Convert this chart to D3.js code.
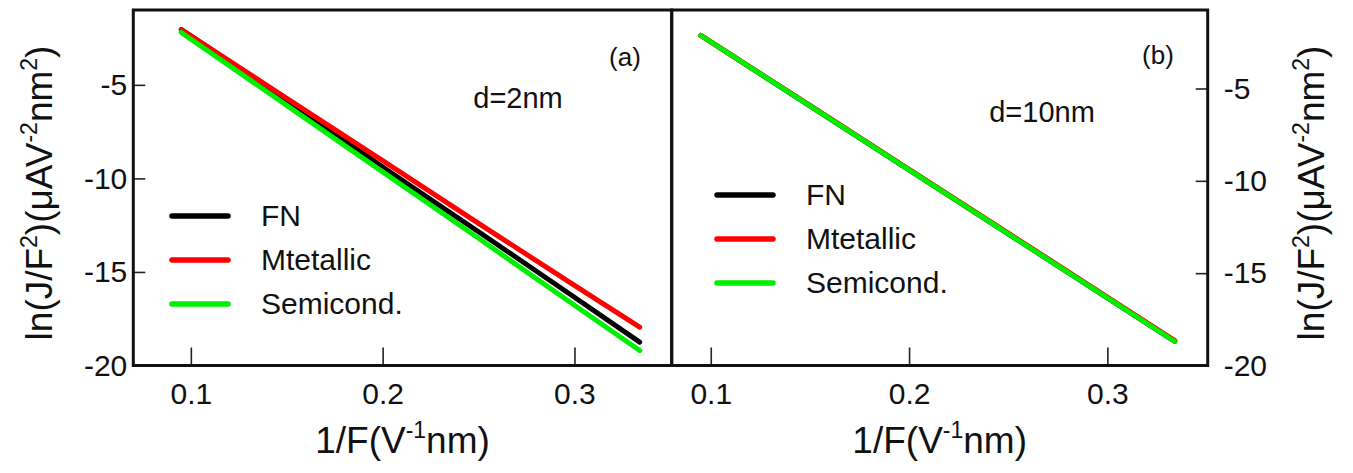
<!DOCTYPE html>
<html>
<head>
<meta charset="utf-8">
<script src="https://cdn.jsdelivr.net/npm/d3@7"></script>
<style>
  body { margin: 0; background: #fff; }
  svg text { font-family: "Liberation Sans", Arial, sans-serif; fill: #111; }
</style>
</head>
<body>
<svg id="chart"></svg>
<script>
// 1/F values (V^-1 nm) where the curves were read
const invF = [0.095, 0.15, 0.2, 0.25, 0.3, 0.334];

// panel (a), d = 2 nm
const fnA   = [-2.05, -5.8, -9.4, -12.85, -16.35, -18.75];
const metA  = [-2.05, -5.72, -9.05, -12.4, -15.72, -17.95];
const semA  = [-2.2, -6.1, -9.65, -13.2, -16.78, -19.2];

// panel (b), d = 10 nm
const fnB   = [-2.13, -5.94, -9.41, -12.87, -16.34, -18.7];
const metB  = [-2.12, -5.92, -9.38, -12.83, -16.29, -18.65];
const semB  = [-2.13, -5.94, -9.41, -12.87, -16.34, -18.7];

const seriesNames  = ["FN", "Mtetallic", "Semicond."];
const seriesColors = ["#000000", "#ff0000", "#00ee00"];

const xTicks = [0.1, 0.2, 0.3];
const yTicks = [-5, -10, -15, -20];

const W = 1353, H = 473;
const plotTop = 10, plotBottom = 365.5;

class FNPanel {
    constructor(svg, opts) {
        this.svg = svg;
        this.o = opts;
    }

    draw() {
        const o = this.o;
        const x = d3.scaleLinear().domain(o.xDomain).range([o.left, o.right]);
        const y = d3.scaleLinear().domain(o.yDomain).range([plotBottom, plotTop]);
        const g = this.svg.append("g");

        // x axis, ticks pointing inward
        const xa = g.append("g")
            .attr("transform", `translate(0,${plotBottom})`)
            .call(d3.axisBottom(x).tickValues(xTicks).tickFormat(d => d.toFixed(1))
                .tickSizeInner(-18).tickSizeOuter(0).tickPadding(17));
        xa.select(".domain").remove();
        xa.selectAll("line").attr("stroke", "#222").attr("stroke-width", 1.6);
        xa.selectAll("text").attr("font-size", 30).attr("font-family", null);

        // y axis on the outer side (plain hyphen for the minus sign)
        const yAxis = o.ySide === "left" ? d3.axisLeft(y) : d3.axisRight(y);
        const ya = g.append("g")
            .attr("transform", `translate(${o.ySide === "left" ? o.left : o.right},0)`)
            .call(yAxis.tickValues(yTicks).tickFormat(d => String(d))
                .tickSizeInner(-12).tickSizeOuter(0)
                .tickPadding(o.ySide === "left" ? 6 : 16));
        ya.select(".domain").remove();
        ya.selectAll("line").attr("stroke", "#222").attr("stroke-width", 1.6);
        ya.selectAll("text").attr("font-size", 30).attr("font-family", null);

        // curves
        const line = d3.line().x((d, i) => x(invF[i])).y(d => y(d));
        g.selectAll("path.curve")
            .data(o.series)
            .enter()
            .append("path")
            .attr("class", "curve")
            .attr("d", d => line(d))
            .attr("fill", "none")
            .attr("stroke", (d, i) => seriesColors[i])
            .attr("stroke-width", 5)
            .attr("stroke-linecap", "round");

        // frame
        g.append("rect")
            .attr("x", o.left).attr("y", plotTop)
            .attr("width", o.right - o.left).attr("height", plotBottom - plotTop)
            .attr("fill", "none").attr("stroke", "#111").attr("stroke-width", 3);

        // legend
        const lg = g.append("g").attr("transform", `translate(${o.legend[0]},${o.legend[1]})`);
        seriesNames.forEach((name, i) => {
            lg.append("line")
                .attr("x1", 0).attr("x2", 56).attr("y1", i * 44).attr("y2", i * 44)
                .attr("stroke", seriesColors[i]).attr("stroke-width", 5.5)
                .attr("stroke-linecap", "round");
            lg.append("text")
                .attr("x", 89).attr("y", i * 44 + 10)
                .attr("font-size", 30)
                .text(name);
        });

        // labels inside the panel
        g.append("text").attr("x", o.tag[0]).attr("y", o.tag[1])
            .attr("font-size", 26).attr("text-anchor", "middle").text(o.tagText);
        g.append("text").attr("x", o.note[0]).attr("y", o.note[1])
            .attr("font-size", 29).attr("text-anchor", "middle").text(o.noteText);

        // x title
        const xt = g.append("text")
            .attr("x", (o.left + o.right) / 2).attr("y", 453)
            .attr("font-size", 37).attr("text-anchor", "middle");
        xt.append("tspan").text("1/F(V");
        xt.append("tspan").attr("font-size", 23).attr("dy", -15).text("-1");
        xt.append("tspan").attr("dy", 15).text("nm)");

        // y title
        const yt = g.append("text")
            .attr("transform", `translate(${o.yTitleX},193) rotate(-90)`)
            .attr("font-size", 37).attr("text-anchor", "middle");
        yt.append("tspan").text("ln(J/F");
        yt.append("tspan").attr("font-size", 23).attr("dy", -15).text("2");
        yt.append("tspan").attr("dy", 15).text(")(\u03bcAV");
        yt.append("tspan").attr("font-size", 23).attr("dy", -15).text("-2");
        yt.append("tspan").attr("dy", 15).text("nm");
        yt.append("tspan").attr("font-size", 23).attr("dy", -15).text("2");
        yt.append("tspan").attr("dy", 15).text(")");
    }
}

const svg = d3.select("#chart").attr("width", W).attr("height", H);

new FNPanel(svg, {
    left: 133.3, right: 671.7,
    xDomain: [0.07, 0.3507], yDomain: [-20, -1.0],
    ySide: "left", yTitleX: 52,
    series: [fnA, metA, semA],
    legend: [172, 216],
    tag: [625, 66], tagText: "(a)",
    note: [518, 108], noteText: "d=2nm"
}).draw();

new FNPanel(svg, {
    left: 671.7, right: 1207.7,
    xDomain: [0.0803, 0.3506], yDomain: [-20, -0.75],
    ySide: "right", yTitleX: 1324,
    series: [fnB, metB, semB],
    legend: [717, 195],
    tag: [1158, 64], tagText: "(b)",
    note: [1042, 122], noteText: "d=10nm"
}).draw();
</script>
</body>
</html>
